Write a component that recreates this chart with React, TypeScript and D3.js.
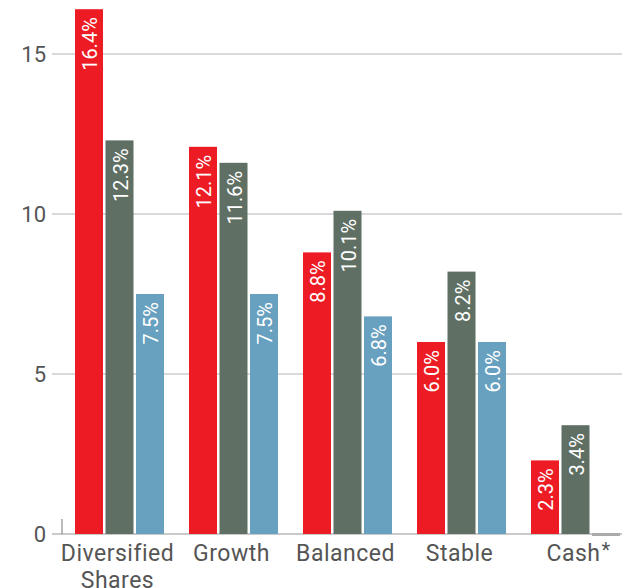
import React from "react";
import * as d3 from "d3";

const categories = ["Diversified\nShares", "Growth", "Balanced", "Stable", "Cash"];
const seriesA = [16.4, 12.1, 8.8, 6.0, 2.3];
const seriesB = [12.3, 11.6, 10.1, 8.2, 3.4];
const seriesC = [7.5, 7.5, 6.8, 6.0, 0.0];
const yTicks = [0, 5, 10, 15];

const W = 627;
const H = 588;
const colors = ["#ED1C24", "#5F6F64", "#68A0BF"];
const font = "Roboto, 'Liberation Sans', sans-serif";

export default function App() {
  const series = [seriesA, seriesB, seriesC];
  const y = d3.scaleLinear().domain([0, 15]).range([534, 54]);
  const x0 = d3
    .scaleBand<number>()
    .domain(d3.range(categories.length))
    .range([75, 620])
    .paddingInner(25 / 114)
    .paddingOuter(0);
  const x1 = d3
    .scaleBand<number>()
    .domain([0, 1, 2])
    .range([0, x0.bandwidth()])
    .paddingInner(2.5 / 30.5)
    .paddingOuter(0);

  return (
    <svg width={W} height={H} style={{ position: "absolute", left: 0, top: 0, background: "#fff" }} fontFamily={font}>
      {yTicks.map((t) => (
        <g key={t}>
          <line x1={52} x2={622} y1={y(t)} y2={y(t)} stroke={t === 0 ? "#b8b8b8" : "#cccccc"} strokeWidth={1.5} />
          <text x={46} y={y(t) + 8} textAnchor="end" fontSize={22} fill="#555">{t}</text>
        </g>
      ))}
      <line x1={62} x2={62} y1={y(0) - 15} y2={y(0)} stroke="#777" strokeWidth={1} />
      {categories.map((c, i) => {
        const gx = x0(i) as number;
        const cx = gx + x0.bandwidth() / 2;
        return (
          <g key={c}>
            {series.map((s, j) => {
              const v = s[i];
              const bx = gx + (x1(j) as number);
              const bw = x1.bandwidth();
              if (v === 0) {
                return <rect key={j} x={bx} y={y(0) - 1} width={bw} height={3} fill="#aaaaaa" />;
              }
              const top = y(v);
              return (
                <g key={j}>
                  <rect x={bx} y={top} width={bw} height={y(0) - top} fill={colors[j]} />
                  <text
                    transform={`translate(${bx + bw / 2 + 1},${top + 8}) rotate(-90)`}
                    textAnchor="end"
                    dy="0.36em"
                    fontSize={20}
                    fill="#fff"
                  >
                    {v.toFixed(1)}%
                  </text>
                </g>
              );
            })}
            <text x={cx - 2} y={561} textAnchor="middle" fontSize={23} letterSpacing={0.5} fill="#555">
              {c.split("\n").map((line, k) => (
                <tspan key={k} x={cx - 2} dy={k === 0 ? 0 : 27}>{line}</tspan>
              ))}
            </text>
            {c === "Cash" ? (
              <text x={cx + 26} y={557} fontSize={20} fill="#555">*</text>
            ) : null}
          </g>
        );
      })}
    </svg>
  );
}
